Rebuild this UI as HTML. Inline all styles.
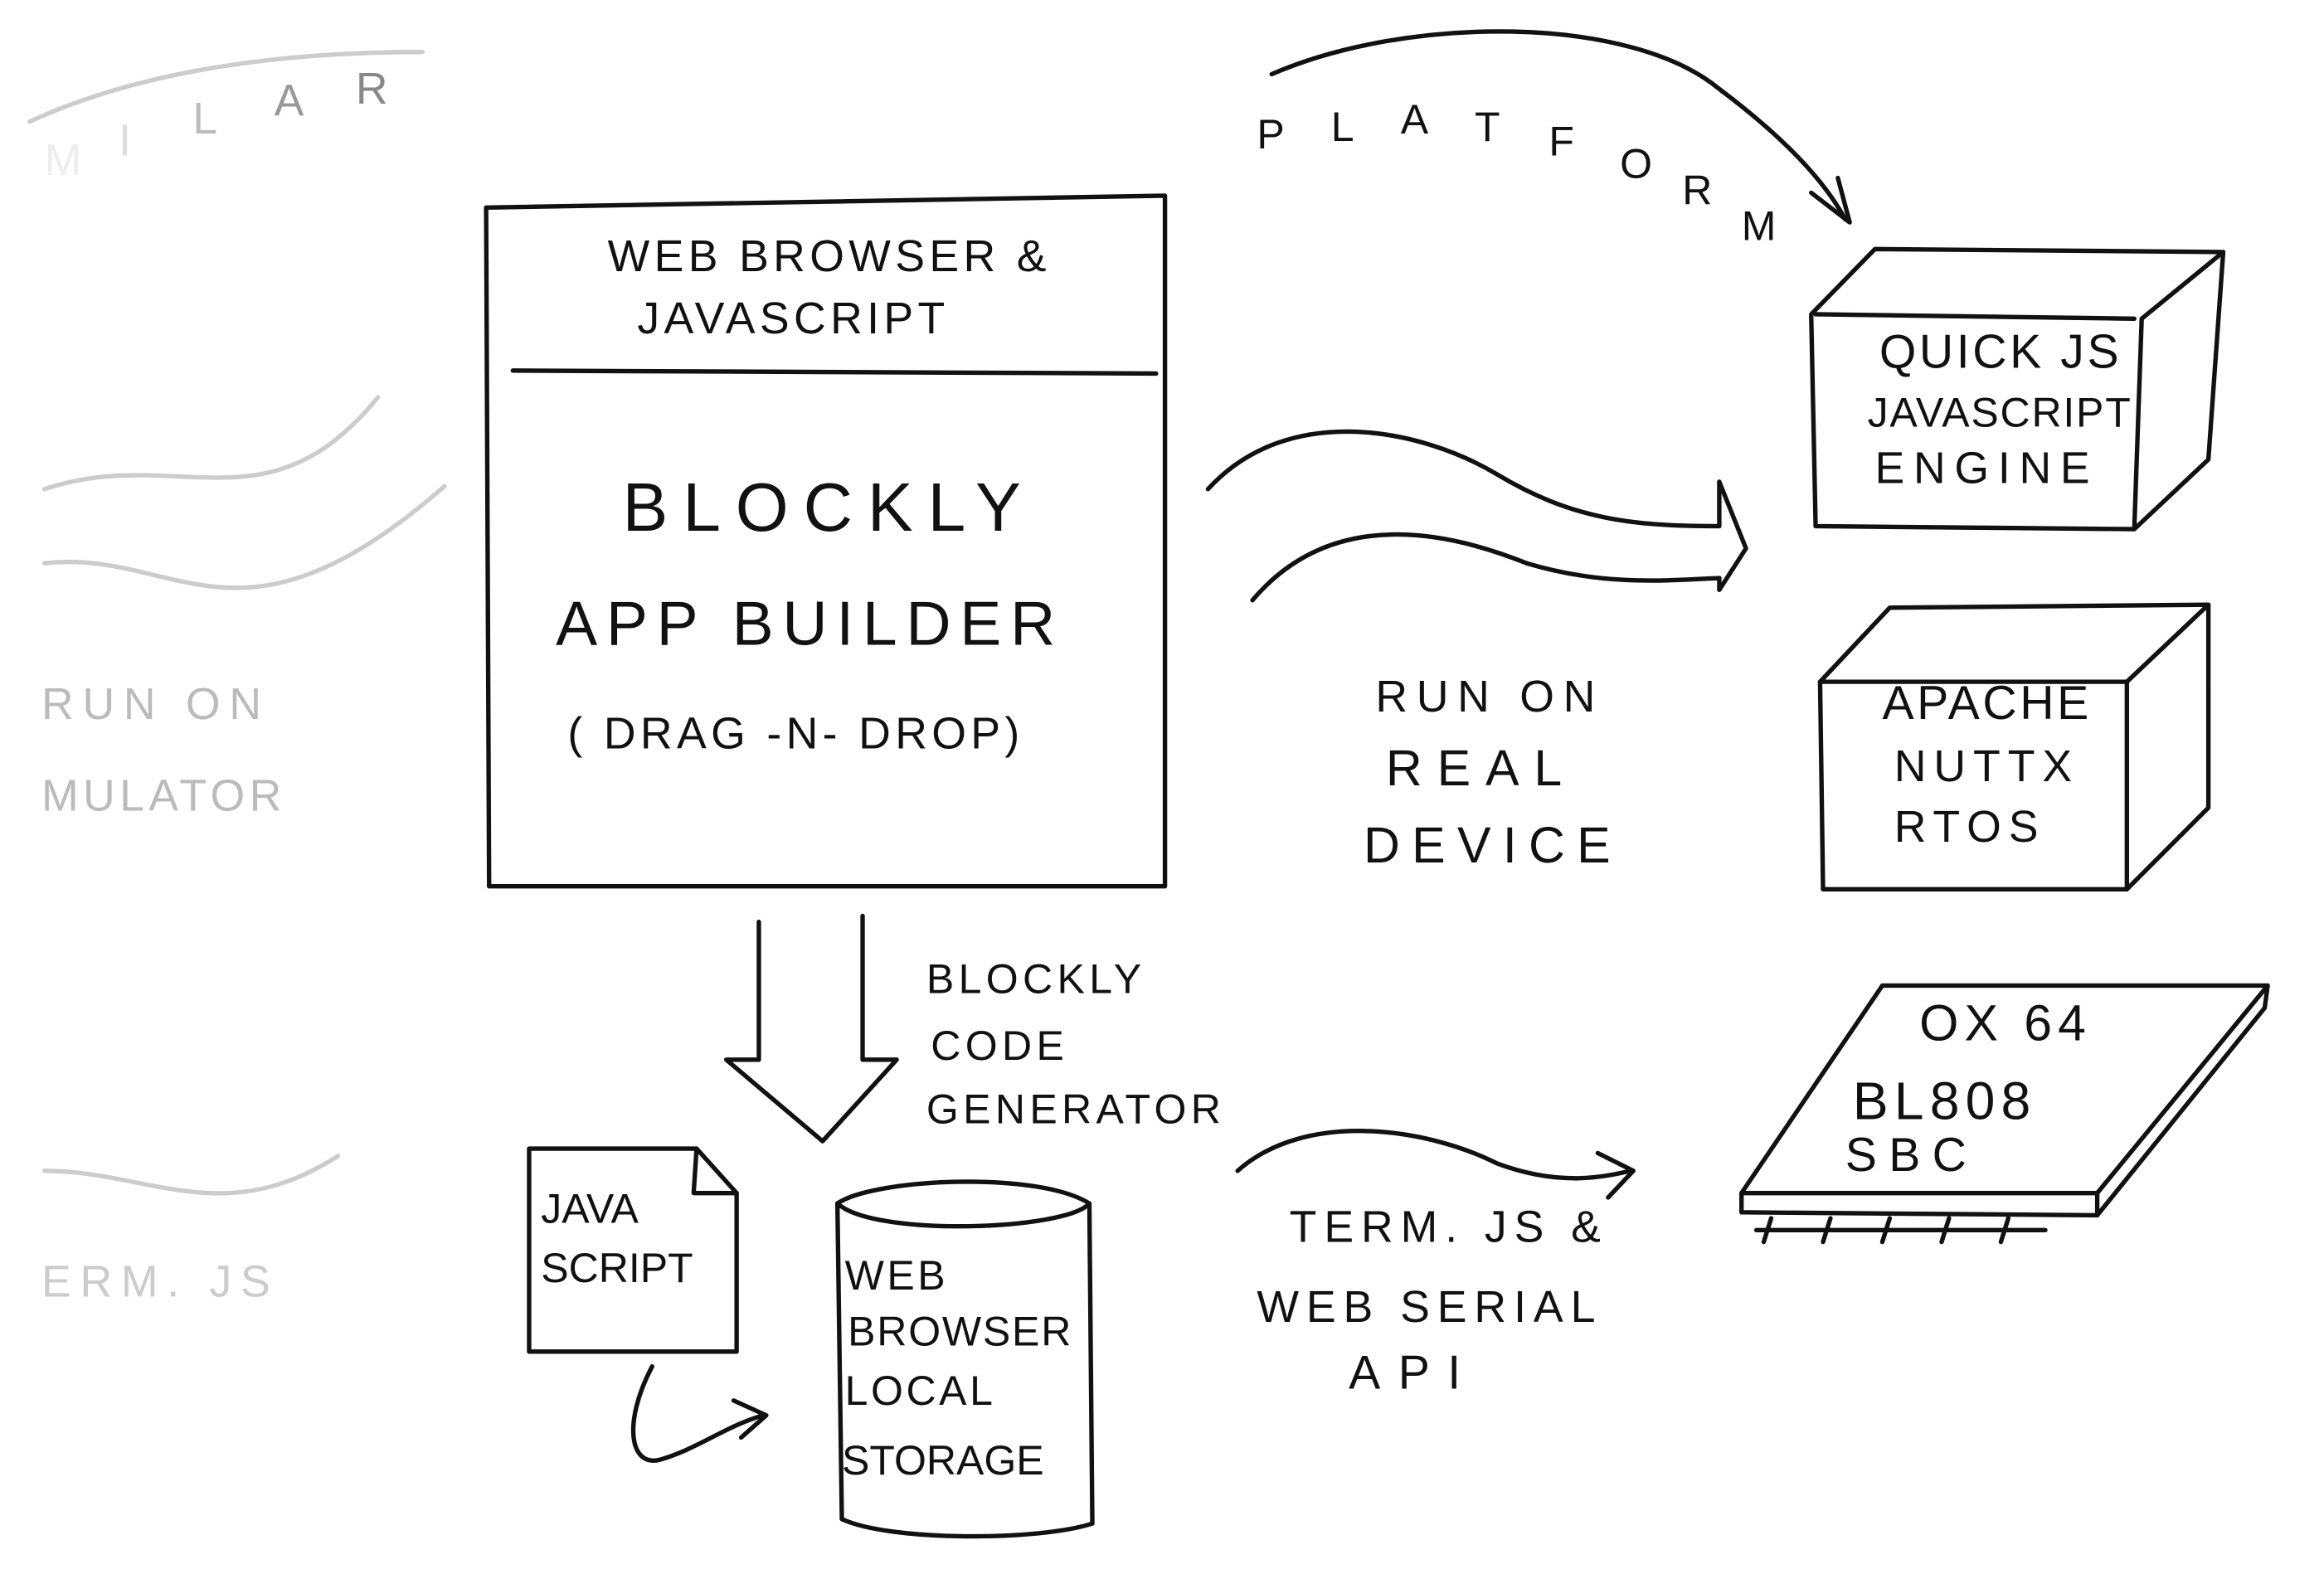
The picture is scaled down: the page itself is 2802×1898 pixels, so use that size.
<!DOCTYPE html>
<html><head><meta charset="utf-8"><style>
html,body{margin:0;padding:0;background:#fff;}
svg{display:block;}
text{font-family:"Liberation Sans",sans-serif;fill:#111;}
</style></head><body>
<svg width="2802" height="1898" viewBox="0 0 1568 1062" xmlns="http://www.w3.org/2000/svg">
<rect width="1568" height="1062" fill="#fff"/>
<g fill="none" stroke="#111" stroke-width="3" stroke-linecap="round" stroke-linejoin="round">
<path d="M328 140 L786 132 L786 598 L330 598 Z"/>
<path d="M346 250 L780 252"/>
<path d="M858 50 C950 10 1100 10 1160 60 C1200 90 1230 120 1245 148"/>
<path d="M1222 130 L1248 150 L1240 120"/>
<path d="M1222 212 L1225 355 L1440 357 L1490 310 L1500 170 L1265 168 L1222 212"/>
<path d="M1440 357 L1445 215 L1500 170"/>
<path d="M1225 212 L1440 215"/>
<path d="M1228 460 L1230 600 L1435 600 L1490 545 L1490 408 L1275 410 L1228 460"/>
<path d="M1435 600 L1435 460 L1490 408"/>
<path d="M1228 460 L1435 460"/>
<path d="M815 330 C870 270 960 290 1010 320 C1060 350 1100 355 1160 355"/>
<path d="M845 405 C900 340 980 360 1030 380 C1080 395 1120 392 1160 390"/>
<path d="M1160 325 L1160 355 M1160 390 L1160 398 L1178 370 L1160 325"/>
<path d="M512 622 L512 715 L490 715 L555 770 L605 715 L582 715 L582 618"/>
<path d="M357 775 L470 775 L497 805 L497 912 L357 912 Z"/>
<path d="M470 775 L468 805 L497 805"/>
<path d="M440 922 C420 960 425 990 445 985 C470 978 490 962 515 955"/>
<path d="M495 945 L517 955 L500 970"/>
<path d="M565 812 C590 795 700 790 735 812 C720 830 590 835 565 812"/>
<path d="M565 812 L568 1025 C600 1040 700 1040 737 1028 L735 812"/>
<path d="M835 790 C880 750 960 760 1010 785 C1050 800 1080 795 1100 790"/>
<path d="M1078 778 L1102 790 L1085 808"/>
<path d="M1270 665 L1530 665 L1415 805 L1175 805 Z"/>
<path d="M1530 665 L1528 680 L1415 820 L1175 818 L1175 805"/>
<path d="M1415 805 L1415 820"/>
<path d="M1185 830 L1380 830 M1195 822 L1190 838 M1235 822 L1230 838 M1275 822 L1270 838 M1315 822 L1310 838 M1355 822 L1350 838"/>
</g>
<g fill="none" stroke="#ccc" stroke-width="3" stroke-linecap="round">
<path d="M20 82 C100 45 200 35 285 35"/>
<path d="M30 330 C120 300 180 360 255 268"/>
<path d="M30 380 C120 370 160 450 300 328"/>
<path d="M30 790 C100 790 150 830 228 780"/>
</g>
<g font-size="30">
<text x="30" y="118" style="fill:#eee">M</text><text x="80" y="105" style="fill:#ddd">I</text><text x="130" y="90" style="fill:#bbb">L</text><text x="185" y="78" style="fill:#999">A</text><text x="240" y="70" style="fill:#888">R</text>
<text x="28" y="485" style="fill:#bbb" letter-spacing="6">RUN  ON</text>
<text x="28" y="547" style="fill:#bbb" letter-spacing="3">MULATOR</text>
<text x="28" y="875" style="fill:#ccc" letter-spacing="6">ERM. JS</text>
</g>
<g font-size="28">
<text x="848" y="100">P</text><text x="898" y="95">L</text><text x="945" y="90">A</text><text x="995" y="95">T</text><text x="1045" y="105">F</text><text x="1093" y="120">O</text><text x="1135" y="138">R</text><text x="1175" y="162">M</text>
</g>
<g font-size="30" letter-spacing="3">
<text x="410" y="183">WEB BROWSER &amp;</text>
<text x="430" y="225">JAVASCRIPT</text>
<text x="420" y="358" font-size="46" letter-spacing="10">BLOCKLY</text>
<text x="375" y="435" font-size="42" letter-spacing="6">APP   BUILDER</text>
<text x="383" y="505" font-size="30">( DRAG -N- DROP)</text>
<text x="1268" y="248" font-size="32" letter-spacing="2">QUICK JS</text>
<text x="1260" y="288" font-size="28" letter-spacing="1">JAVASCRIPT</text>
<text x="1265" y="326" font-size="30" letter-spacing="6">ENGINE</text>
<text x="1270" y="485" font-size="32" letter-spacing="2">APACHE</text>
<text x="1278" y="527" font-size="30" letter-spacing="5">NUTTX</text>
<text x="1278" y="568" font-size="30" letter-spacing="5">RTOS</text>
<text x="928" y="480" font-size="30" letter-spacing="6">RUN  ON</text>
<text x="935" y="530" font-size="34" letter-spacing="10">REAL</text>
<text x="920" y="582" font-size="34" letter-spacing="8">DEVICE</text>
<text x="625" y="670" font-size="28">BLOCKLY</text>
<text x="628" y="715" font-size="28">CODE</text>
<text x="625" y="758" font-size="28">GENERATOR</text>
<text x="365" y="825" font-size="28" letter-spacing="0">JAVA</text>
<text x="365" y="865" font-size="28" letter-spacing="0">SCRIPT</text>
<text x="570" y="870" font-size="28" letter-spacing="2">WEB</text>
<text x="572" y="908" font-size="28" letter-spacing="1">BROWSER</text>
<text x="570" y="948" font-size="28" letter-spacing="2">LOCAL</text>
<text x="568" y="995" font-size="28" letter-spacing="0">STORAGE</text>
<text x="870" y="838" font-size="30" letter-spacing="5">TERM. JS &amp;</text>
<text x="848" y="892" font-size="30" letter-spacing="5">WEB SERIAL</text>
<text x="910" y="937" font-size="32" letter-spacing="12">API</text>
<text x="1295" y="702" font-size="34" letter-spacing="4">OX 64</text>
<text x="1250" y="755" font-size="36" letter-spacing="4">BL808</text>
<text x="1245" y="790" font-size="32" letter-spacing="8">SBC</text>
</g>
</svg>
</body></html>
